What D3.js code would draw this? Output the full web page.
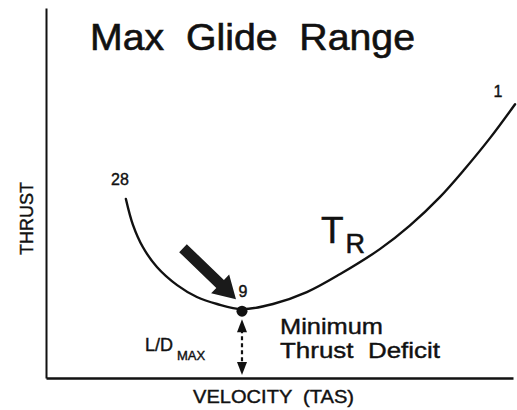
<!DOCTYPE html>
<html>
<head>
<meta charset="utf-8">
<script src="https://cdn.jsdelivr.net/npm/d3@7"></script>
<style>
  html, body { margin: 0; padding: 0; background: #fff; }
  svg { display: block; font-family: "Liberation Sans", Arial, Helvetica, sans-serif; }
  svg text { white-space: pre; }
</style>
</head>
<body>
<svg id="chart" width="517" height="410"></svg>
<script>
// Thrust-required curve (arbitrary units, 0-100 on both axes)
const velocity = [17.0, 18.5, 20.6, 23.6, 27.9, 32.1, 36.4, 41.7, 48.3, 55.5, 62.6, 71.1, 77.4, 83.8, 89.1, 94.5, 99.8];
const thrust   = [48.4, 41.4, 35.4, 30.0, 25.1, 21.9, 20.0, 18.6, 20.0, 23.2, 28.1, 34.9, 41.2, 48.9, 56.5, 64.9, 74.0];

// Glide-ratio markers along the curve: label and index into the curve
const markerLabels = ["28", "9", "1"];
const markerIndex  = [0, 7, 16];

const title = "Max  Glide  Range";
const xTitle = "VELOCITY  (TAS)";
const yTitle = "THRUST";

const svg = d3.select("#chart");
const W = 517, H = 410;
const margin = { left: 46, right: 1, top: 8, bottom: 32 };

const x = d3.scaleLinear().domain([0, 100]).range([margin.left, W - margin.right]);
const y = d3.scaleLinear().domain([0, 100]).range([H - margin.bottom, margin.top]);

const ink = "#111";

// Slightly heavier text strokes to suit the printed look
function heavy(sel, w) {
  return sel.attr("fill", ink).attr("stroke", ink).attr("stroke-width", w).attr("paint-order", "stroke");
}

// Axes: plain lines, no ticks
svg.append("g")
  .attr("transform", `translate(${margin.left},0)`)
  .call(d3.axisLeft(y).tickValues([]).tickSizeOuter(0))
  .select(".domain").attr("stroke", ink).attr("stroke-width", 2);

svg.append("g")
  .attr("transform", `translate(0,${H - margin.bottom})`)
  .call(d3.axisBottom(x.copy().range([margin.left, W - 4])).tickValues([]).tickSizeOuter(0))
  .select(".domain").attr("stroke", ink).attr("stroke-width", 2.6);

// Thrust-required curve
const pts = velocity.map((v, i) => [v, thrust[i]]);
const line = d3.line().x(d => x(d[0])).y(d => y(d[1])).curve(d3.curveCatmullRom.alpha(0.5));
svg.append("path")
  .datum(pts)
  .attr("d", line)
  .attr("fill", "none")
  .attr("stroke", ink)
  .attr("stroke-width", 2.4)
  .attr("stroke-linecap", "round");

// Marker labels
const labelOffsets = [[-6, -14], [1, -12], [-17, -7]];
markerLabels.forEach((lab, k) => {
  const p = pts[markerIndex[k]];
  heavy(svg.append("text"), 0.4)
    .attr("x", x(p[0]) + labelOffsets[k][0])
    .attr("y", y(p[1]) + labelOffsets[k][1])
    .attr("text-anchor", "middle")
    .attr("font-size", 16)
    .text(lab);
});

// Minimum point (L/D max)
const minP = pts[markerIndex[1]];
const mx = x(minP[0]), my = y(minP[1]) + 2;
svg.append("circle").attr("cx", mx).attr("cy", my).attr("r", 5.5).attr("fill", ink);

// Heavy pointer arrow aiming at the minimum
(function () {
  const tip = [mx - 6, my - 12];
  const tail = [mx - 59, my - 63];
  const dx = tip[0] - tail[0], dy = tip[1] - tail[1];
  const len = Math.hypot(dx, dy);
  const ux = dx / len, uy = dy / len, nx = -uy, ny = ux;
  const headLen = 22, headW = 13, shaftW = 5.5;
  const bx = tip[0] - ux * headLen, by = tip[1] - uy * headLen;
  const poly = [
    [tail[0] + nx * shaftW, tail[1] + ny * shaftW],
    [bx + nx * shaftW, by + ny * shaftW],
    [bx + nx * headW, by + ny * headW],
    tip,
    [bx - nx * headW, by - ny * headW],
    [bx - nx * shaftW, by - ny * shaftW],
    [tail[0] - nx * shaftW, tail[1] - ny * shaftW]
  ];
  svg.append("path").attr("d", "M" + poly.map(p => p.join(",")).join("L") + "Z").attr("fill", "#1a1a1a");
})();

// Dashed double-headed arrow from the minimum down to the velocity axis
(function () {
  const top = my + 8, bot = y(0) - 3;
  svg.append("line")
    .attr("x1", mx).attr("x2", mx)
    .attr("y1", top + 10).attr("y2", bot - 10)
    .attr("stroke", ink).attr("stroke-width", 2.2)
    .attr("stroke-dasharray", "4,3");
  svg.append("path").attr("d", `M${mx},${top}L${mx - 5},${top + 13}L${mx + 5},${top + 13}Z`).attr("fill", ink);
  svg.append("path").attr("d", `M${mx},${bot}L${mx - 5},${bot - 13}L${mx + 5},${bot - 13}Z`).attr("fill", ink);
})();

// L/D MAX label
const ld = heavy(svg.append("text").attr("x", 145).attr("y", 351), 0.4);
ld.append("tspan").attr("font-size", 18).text("L/D");
ld.append("tspan").attr("font-size", 13).attr("dx", 4).attr("dy", 9).text("MAX");

// Annotation to the right of the minimum
heavy(svg.append("text"), 0.4).attr("x", 280).attr("y", 334).attr("font-size", 22)
  .attr("textLength", 103).attr("lengthAdjust", "spacingAndGlyphs").text("Minimum");
heavy(svg.append("text"), 0.4).attr("x", 280).attr("y", 358).attr("font-size", 22)
  .attr("textLength", 160).attr("lengthAdjust", "spacingAndGlyphs").text("Thrust  Deficit");

// Curve name T_R
const tr = heavy(svg.append("text").attr("x", 321).attr("y", 243), 0.5);
tr.append("tspan").attr("font-size", 37).text("T");
tr.append("tspan").attr("font-size", 27).attr("dx", 2).attr("dy", 10).text("R");

// Title
heavy(svg.append("text"), 0.6).attr("x", 90).attr("y", 50).attr("font-size", 36)
  .attr("textLength", 325).attr("lengthAdjust", "spacingAndGlyphs").text(title);

// Axis titles
heavy(svg.append("text"), 0.4).attr("x", 193).attr("y", 403).attr("font-size", 18)
  .attr("textLength", 161).attr("lengthAdjust", "spacingAndGlyphs").text(xTitle);

heavy(svg.append("text"), 0.4)
  .attr("transform", "translate(33,255) rotate(-90)")
  .attr("font-size", 18)
  .attr("textLength", 73).attr("lengthAdjust", "spacingAndGlyphs").text(yTitle);
</script>
</body>
</html>
